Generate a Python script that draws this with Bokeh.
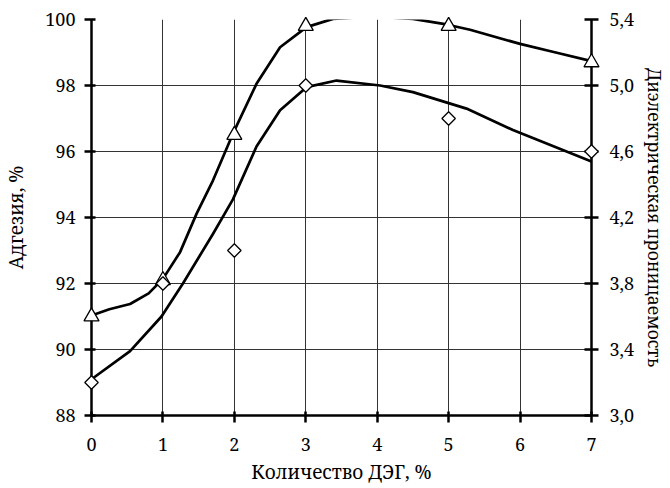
from bokeh.plotting import figure
from bokeh.models import Range1d, LinearAxis, FixedTicker, CustomJSTickFormatter
from bokeh.embed import file_html
from bokeh.resources import INLINE

# measured points
x_pts = [0, 1, 2, 3, 5, 7]
adhesion = [91.0, 92.1, 96.5, 99.8, 99.8, 98.7]          # left axis, triangles
permittivity = [3.2, 3.8, 4.0, 5.0, 4.8, 4.6]             # right axis, diamonds

# smoothed trend curves
adh_curve_x = [0, 0.25, 0.54, 0.8, 1.0, 1.24, 1.47, 1.70, 1.98, 2.31, 2.64, 3.01, 3.38, 3.94, 4.5, 4.97, 5.3, 6.0, 6.5, 7.0]
adh_curve_y = [91.03, 91.22, 91.38, 91.7, 92.14, 92.95, 94.11, 95.12, 96.54, 98.05, 99.16, 99.77, 100.02, 100.09, 100.02, 99.85, 99.69, 99.26, 99.0, 98.74]
perm_curve_x = [0, 0.54, 0.98, 1.28, 1.70, 1.98, 2.31, 2.64, 3.01, 3.43, 4.04, 4.5, 5.25, 5.9, 7.0]
perm_curve_y = [3.22, 3.39, 3.60, 3.80, 4.10, 4.31, 4.63, 4.85, 4.99, 5.03, 5.00, 4.96, 4.86, 4.73, 4.54]

x_ticks = [0, 1, 2, 3, 4, 5, 6, 7]
left_ticks = [88, 90, 92, 94, 96, 98, 100]
right_ticks = [3.0, 3.4, 3.8, 4.2, 4.6, 5.0, 5.4]

FONT = "Noto Serif"

p = figure(width=670, height=488, output_backend="svg", toolbar_location=None,
           x_range=Range1d(0, 7), y_range=Range1d(88, 100),
           min_border_left=91, min_border_right=79, min_border_top=19, min_border_bottom=73)
p.extra_y_ranges = {"right": Range1d(3.0, 5.4)}
p.outline_line_color = None
p.background_fill_color = "white"


def style(ax):
    ax.axis_line_width = 2.5
    ax.axis_line_color = "black"
    ax.major_tick_line_width = 2.5
    ax.major_tick_line_color = "black"
    ax.major_tick_out = 7
    ax.major_tick_in = 4
    ax.minor_tick_line_color = None
    ax.major_label_text_font = FONT
    ax.major_label_text_font_size = "18px"
    ax.major_label_text_color = "black"
    ax.axis_label_text_font = FONT
    ax.axis_label_text_font_size = "19px"
    ax.axis_label_text_font_style = "normal"
    ax.axis_label_text_color = "black"


style(p.xaxis[0])
style(p.yaxis[0])
p.xaxis.ticker = FixedTicker(ticks=x_ticks)
p.yaxis.ticker = FixedTicker(ticks=left_ticks)
p.xaxis.axis_label = "Количество ДЭГ, %"
p.yaxis.axis_label = "Адгезия, %"
p.xaxis.major_label_standoff = 15
p.xaxis.axis_label_standoff = 5
p.yaxis.major_label_standoff = 9
p.yaxis.axis_label_standoff = 13

ra = LinearAxis(y_range_name="right", ticker=FixedTicker(ticks=right_ticks),
                formatter=CustomJSTickFormatter(code="return tick.toFixed(1).replace('.', ',');"),
                axis_label="Диэлектрическая проницаемость")
style(ra)
ra.axis_label_text_font_size = "17.5px"
ra.major_tick_in = 7
ra.major_label_standoff = 11
ra.axis_label_standoff = 6
p.add_layout(ra, "right")

p.xgrid.ticker = FixedTicker(ticks=x_ticks)
p.ygrid.ticker = FixedTicker(ticks=left_ticks)
for g in [p.xgrid[0], p.ygrid[0]]:
    g.grid_line_color = "#333333"
    g.grid_line_width = 1

p.line(adh_curve_x, adh_curve_y, line_color="black", line_width=2.7, line_join="round")
p.line(perm_curve_x, perm_curve_y, line_color="black", line_width=2.7, line_join="round",
       y_range_name="right")

p.scatter(x_pts, adhesion, marker="triangle", size=15, fill_color="white",
          line_color="black", line_width=1.3, level="overlay")
p.scatter(x_pts, permittivity, marker="square", angle=0.785398, size=9.5, fill_color="white",
          line_color="black", line_width=1.3, y_range_name="right", level="overlay")

open("out.html", "w").write(file_html(p, INLINE))
